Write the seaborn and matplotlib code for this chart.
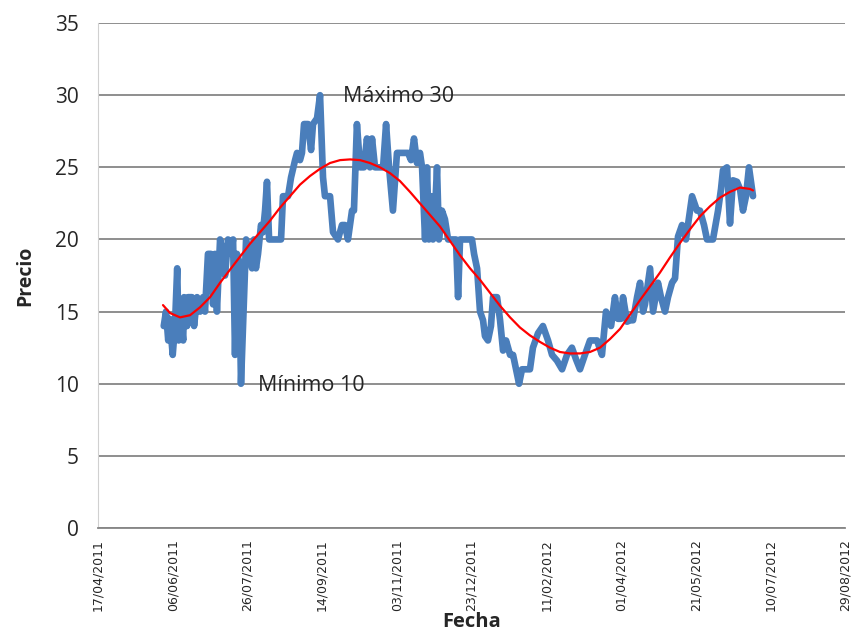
import numpy as np
import pandas as pd
import seaborn as sns
import matplotlib.pyplot as plt

# days since 17/04/2011 and price (blue series)
price_days = [44, 45.5, 47, 48, 50, 51.5, 53, 54, 55.6, 57, 57.6, 59.6, 60.2, 62.9, 64.3, 66.3,
              68.3, 70.3, 71.6, 73.6, 75.6, 77, 78.3, 79.6, 81.7, 83.7, 85, 87, 89, 90.4,
              91.7, 93, 94.4, 95.7, 97.7, 99.1, 101.1, 103.1, 104.4, 105.7, 107.1, 109.1, 110.4,
              111.8, 113.1, 114.5, 116.5, 119.1, 121.1, 122.5, 123.8, 127.2, 129.2, 131.9, 133.2,
              135.2, 136.5, 137.9, 140.6, 142.6, 143.9, 146.6, 148.6, 150.6, 151.9, 155.3, 157.3,
              160.6, 163.3, 165.3, 167.3, 170, 171.3, 173.3, 175.4, 178, 180, 182, 183.4, 185.4,
              188.7, 190.8, 192.8, 194.8, 197.4, 200.1, 203.5, 207.5, 209.5, 211.5, 213.5, 215.5,
              216.9, 218.9, 220.2, 221.5, 222.9, 224.2, 225.6, 226.9, 228.2, 230.2, 232.2, 234.3,
              237.6, 239.6, 241, 242.3, 246.3, 250.3, 251.7, 253.7, 255.7, 257.7, 259, 261, 263,
              264.4, 267.1, 269.1, 271.1, 273.1, 275.8, 277.8, 280.4, 281.8, 283.8, 287.1, 289.1,
              291.1, 294.5, 297.8, 301.2, 303.9, 307.2, 310.6, 313.9, 317.2, 319.9, 322.6, 325.9,
              329.3, 334, 337.3, 340, 341.3, 343.4, 346, 348, 350, 351.4, 354.1, 356.1, 358.1,
              360.8, 362.8, 364.8, 366.1, 369.5, 371.5, 374.8, 376.8, 379.5, 381.5, 384.2, 386.2,
              388.2, 390.9, 393.5, 396.2, 397.6, 400.9, 402.9, 405.6, 407.6, 411.6, 415, 417,
              418.3, 421, 423, 425, 427.7, 429.7, 431.7, 433.7, 435.7, 438.4]
price = [14, 15, 13, 14.5, 12, 14, 18, 13, 14.5, 13, 16, 14, 16, 16, 14, 16,
         15, 16, 15, 19, 19, 15.5, 19, 15, 20, 19, 17.5, 20, 19, 20,
         12, 19, 18.5, 10, 16, 20, 19, 18, 20, 18, 19, 21, 20.5,
         22, 24, 20, 20, 20, 20, 20, 23, 23, 24.3, 25.5, 26,
         25.5, 26, 28, 28, 26.2, 28, 28.4, 30, 24.3, 23, 23, 20.5,
         20, 21, 21, 20, 22, 22, 28, 25, 25, 27, 25, 27, 25,
         25, 25, 28, 25, 22, 26, 26, 26, 25.5, 27, 25.3, 26,
         25, 20, 25, 20, 23, 20, 22, 25, 20, 22, 21.4, 20,
         20, 20, 16, 20, 20, 20, 19, 18, 15, 14.4, 13.3, 13, 14,
         16, 16, 14.4, 12.3, 13, 12, 12, 10.7, 10, 11, 11, 11,
         12.5, 13.5, 14, 13, 12, 11.6, 11, 12, 12.5, 11.7, 11, 12,
         13, 13, 12, 15, 14.5, 14, 16, 14.5, 14.5, 16, 14.3, 14.4, 14.4,
         16, 17, 15, 15.5, 18, 15, 17, 16, 15, 16, 17, 17.3,
         20.2, 21, 20, 22, 23, 22, 22, 21, 20, 20, 22, 23.5,
         24.8, 25, 21.1, 24.1, 24, 23.5, 22, 23, 25, 23]

# trend line (red)
trend_days = [43.5, 48.2, 54.9, 61.6, 68.3, 75, 81.7, 88.3, 95, 101.7, 108.4, 115.1, 121.8,
              128.5, 135.2, 141.9, 148.6, 155.3, 162, 168.7, 175.4, 182, 188.7, 195.4, 202.1,
              208.8, 215.5, 222.2, 228.9, 235.6, 242.3, 249, 255.7, 262.4, 269.1, 275.8, 282.4,
              289.1, 295.8, 302.5, 309.2, 315.9, 322.6, 329.3, 336, 342.7, 349.4, 356.1, 362.8,
              369.5, 376.1, 382.8, 389.5, 396.2, 402.9, 409.6, 416.3, 423, 429.7, 436.4, 438.4]
trend = [15.45, 14.9, 14.6, 14.75, 15.3, 16.0, 17.0, 17.9, 18.8, 19.7, 20.5, 21.3, 22.2,
         23.0, 23.8, 24.4, 24.9, 25.3, 25.5, 25.55, 25.5, 25.3, 25.0, 24.6, 24.05,
         23.3, 22.5, 21.7, 20.9, 19.9, 18.9, 18.0, 17.2, 16.3, 15.4, 14.6, 13.9,
         13.35, 12.9, 12.5, 12.2, 12.1, 12.1, 12.2, 12.5, 13.1, 13.8, 14.8, 15.8,
         16.75, 17.7, 18.75, 19.75, 20.7, 21.6, 22.3, 22.9, 23.3, 23.6, 23.5, 23.4]

start = pd.Timestamp('2011-04-17')
df_price = pd.DataFrame({'Fecha': start + pd.to_timedelta(price_days, unit='D'), 'Precio': price})
df_trend = pd.DataFrame({'Fecha': start + pd.to_timedelta(trend_days, unit='D'), 'Precio': trend})

sns.set_style('white')
plt.rcParams['font.family'] = ['Open Sans', 'DejaVu Sans']

fig = plt.figure(figsize=(8.56, 6.41), dpi=100)
ax = fig.add_axes([0.1145, 0.1763, 0.8727, 0.7877])

sns.lineplot(data=df_price, x='Fecha', y='Precio', ax=ax, color='#4a7ebb', lw=4.8,
             estimator=None, sort=False, solid_joinstyle='round', solid_capstyle='round')
sns.lineplot(data=df_trend, x='Fecha', y='Precio', ax=ax, color='#ff0000', lw=1.6,
             estimator=None, sort=False, solid_joinstyle='round')

ax.set_ylim(0, 35)
ax.set_yticks(np.arange(0, 36, 5))
ax.set_xlim(start, start + pd.Timedelta(days=500))
xt = [start + pd.Timedelta(days=50 * k) for k in range(11)]
ax.set_xticks(xt)
ax.set_xticklabels([d.strftime('%d/%m/%Y') for d in xt], rotation=90,
                   fontfamily='DejaVu Sans', fontsize=9)
ax.yaxis.grid(True, color='#868686', lw=1.3)
ax.set_axisbelow(True)
for s in ['top', 'right']:
    ax.spines[s].set_visible(False)
ax.spines['left'].set_color('#d0d0d0')
ax.spines['bottom'].set_color('#868686')
ax.spines['bottom'].set_linewidth(1.3)
ax.tick_params(axis='y', labelsize=15, pad=14, length=0)
ax.tick_params(axis='x', pad=8, length=0)

ax.set_xlabel('Fecha', fontsize=14.5, fontweight='bold', labelpad=1)
ax.set_ylabel('Precio', fontsize=14, fontweight='bold', labelpad=14)

ax.text(start + pd.Timedelta(days=164), 29.9, 'Máximo 30', fontsize=15.5, va='center')
ax.text(start + pd.Timedelta(days=107), 9.9, 'Mínimo 10', fontsize=15.5, va='center')

fig.savefig('out.png', dpi=100)
